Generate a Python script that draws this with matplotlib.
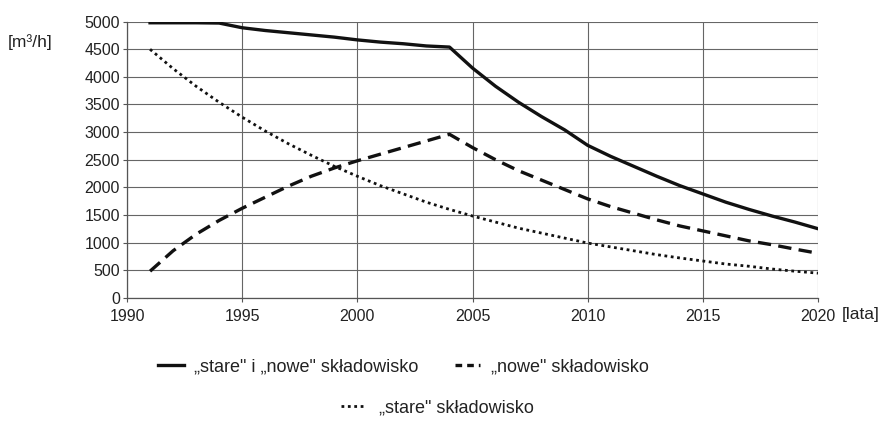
import matplotlib.pyplot as plt
from matplotlib.lines import Line2D

plt.rcParams['font.family'] = ['Liberation Sans', 'DejaVu Sans']

years = list(range(1991, 2021))

# "stare" i "nowe" skladowisko (suma)
razem = [4980, 4980, 4980, 4975, 4890, 4840, 4800, 4760, 4720, 4670,
         4630, 4600, 4560, 4540, 4160, 3830, 3540, 3280, 3040, 2760,
         2560, 2380, 2200, 2030, 1880, 1730, 1600, 1480, 1370, 1250]
# "nowe" skladowisko
nowe = [480, 850, 1150, 1400, 1620, 1820, 2020, 2200, 2350, 2480,
        2600, 2720, 2840, 2960, 2720, 2500, 2300, 2130, 1960, 1790,
        1650, 1530, 1410, 1300, 1210, 1120, 1030, 960, 880, 805]
# "stare" skladowisko
stare = [4500, 4150, 3830, 3540, 3270, 3020, 2790, 2580, 2380, 2200,
         2030, 1880, 1730, 1600, 1480, 1370, 1260, 1170, 1080, 990,
         920, 850, 780, 720, 665, 610, 570, 520, 480, 445]

labels = ['\u201estare" i \u201enowe" składowisko',
          '\u201enowe" składowisko',
          '\u201estare" składowisko']

fig = plt.figure(figsize=(8.87, 4.25), dpi=100)
ax = fig.add_axes([0.1432, 0.2995, 0.7790, 0.6495])

ax.plot(years, razem, color='#111111', lw=2.4, ls='-')
ax.plot(years, nowe, color='#111111', lw=2.4, ls=(0, (4, 2.2)))
ax.plot(years, stare, color='#111111', lw=2.0, ls=(0, (1, 1.3)))

ax.set_xlim(1990, 2020)
ax.set_ylim(0, 5000)
ax.set_xticks(range(1990, 2021, 5))
ax.set_yticks(range(0, 5001, 500))
ax.grid(True, color='#666666', lw=0.8)
ax.set_axisbelow(True)
for s in ['top', 'right']:
    ax.spines[s].set_visible(False)
for s in ['left', 'bottom']:
    ax.spines[s].set_color('#555555')
    ax.spines[s].set_linewidth(0.9)
ax.tick_params(labelsize=11.5, length=3, width=0.8, color='#555555',
               labelcolor='#222222')
ax.tick_params(axis='y', pad=2)
ax.tick_params(axis='x', pad=5)

fig.text(0.009, 0.901, '[m³/h]', fontsize=12.5, va='center', color='#222222')
fig.text(0.949, 0.259, '[lata]', fontsize=12.5, va='center', color='#222222')

h1 = Line2D([], [], color='#111111', lw=2.4, ls='-')
h2 = Line2D([], [], color='#111111', lw=2.4, ls=(0, (2, 1.5)))
h3 = Line2D([], [], color='#111111', lw=2.0, ls=(0, (1, 1.3)))

fig.legend([h1, h2], labels[:2], loc='center', ncol=2,
           bbox_to_anchor=(0.455, 0.136), frameon=False, fontsize=13,
           handlelength=1.4, columnspacing=2.0, handletextpad=0.6,
           labelcolor='#222222')
fig.legend([h3], labels[2:], loc='center', bbox_to_anchor=(0.493, 0.04),
           frameon=False, fontsize=13, handlelength=1.4, handletextpad=0.7,
           labelcolor='#222222')

fig.savefig('out.png', dpi=100)
